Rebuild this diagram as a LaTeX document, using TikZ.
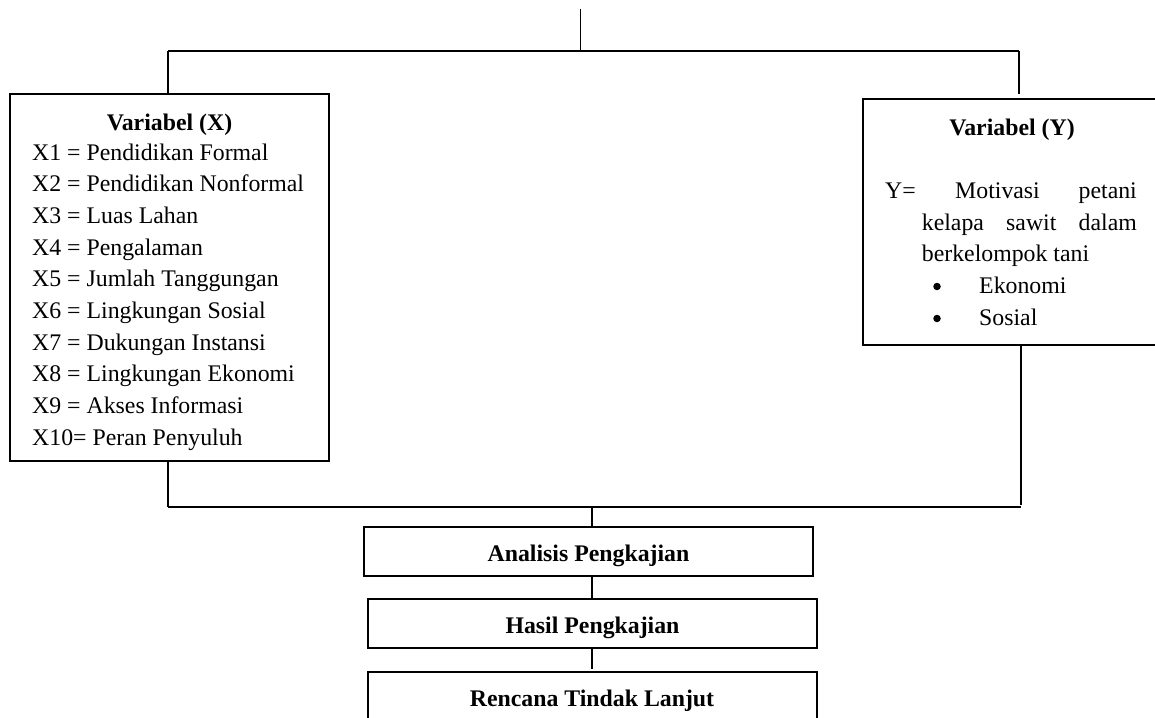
\documentclass[tikz,border=0pt]{standalone}
\usepackage{fontspec}
\setmainfont{Liberation Serif}
\begin{document}
\begin{tikzpicture}[x=1pt,y=-1pt,
  box/.style={draw,line width=1.6pt,inner sep=0pt},
  conn/.style={line width=1.3pt},
  hconn/.style={line width=1.8pt},
  bul/.style={circle,fill=black,inner sep=0pt,minimum size=7.5pt},
  txt/.style={font=\fontsize{23.8}{31.7}\selectfont,inner sep=0pt,anchor=base west},
  ttl/.style={font=\fontsize{23.8}{31.7}\selectfont\bfseries,inner sep=0pt,anchor=base}]
\clip (0,0) rectangle (1155,717);
\fill[white] (0,0) rectangle (1155,717);
% boxes
\node[box,minimum width=319pt,minimum height=367pt] (bx) at (169.5,277.5) {};
\node[box,minimum width=310pt,minimum height=246pt] (by) at (1018,222) {};
\node[box,minimum width=449pt,minimum height=49pt] (ana) at (588.5,551.5) {};
\node[box,minimum width=449pt,minimum height=49pt] (has) at (592.5,623.5) {};
\node[box,minimum width=449pt,minimum height=70pt] (ren) at (592.5,707) {};
% box texts
\node[ttl] (ana-t) at (588.5,561) {Analisis Pengkajian};
\node[ttl] (has-t) at (592.5,633) {Hasil Pengkajian};
\node[ttl] (ren-t) at (592,706) {Rencana Tindak Lanjut};
% left text
\node[ttl] (xt) at (169.5,130) {Variabel (X)};
\foreach \t [count=\i from 0] in {X1 = Pendidikan Formal,X2 = Pendidikan Nonformal,X3 = Luas Lahan,X4 = Pengalaman,X5 = Jumlah Tanggungan,X6 = Lingkungan Sosial,X7 = Dukungan Instansi,X8 = Lingkungan Ekonomi,X9 = Akses Informasi,X10= Peran Penyuluh}
  \node[txt] (x\i) at (32,{160+31.7*\i}) {\t};
% right text
\node[ttl] (yt) at (1012,135) {Variabel (Y)};
\node[txt] (y1a) at (885,198) {Y=};
\node[txt] (y1b) at (955,198) {Motivasi};
\node[txt,anchor=base east] (y1c) at (1137,198) {petani};
\node[txt] (y2a) at (921.7,230) {kelapa};
\node[txt] (y2b) at (1006,230) {sawit};
\node[txt,anchor=base east] (y2c) at (1137,230) {dalam};
\node[txt] (y3) at (921.7,261.5) {berkelompok tani};
\node[bul] (b1) at (937,286.5) {};
\node[txt] (y4) at (979,293.5) {Ekonomi};
\node[bul] (b2) at (937,318.5) {};
\node[txt] (y5) at (979,325.5) {Sosial};
% connectors top
\coordinate (top) at (580.5,9);
\coordinate (tm) at (580.5,50.7);
\coordinate (tl) at (168,50.7);
\coordinate (tr) at (1019,50.7);
\coordinate (trend) at (1019,94);
\draw[conn] (top) -- (tm);
\draw[hconn] (tl) -- (tr);
\draw[conn] (tl) -- (bx.north -| tl);
\draw[conn] (tr) -- (trend);
% connectors bottom
\coordinate (bl) at (168,506.7);
\coordinate (br) at (1021,506.7);
\coordinate (bm) at (592,506.7);
\draw[conn] (bx.south -| bl) -- (bl);
\draw[conn] (by.south -| br) -- ([yshift=1.5pt]br);
\draw[hconn] (bl) -- (br);
\draw[conn] (bm) -- (ana.north -| bm);
\draw[conn] (ana.south -| bm) -- (has.north -| bm);
\coordinate (hend) at (592,669);
\draw[conn] (has.south -| bm) -- (hend);
\end{tikzpicture}
\end{document}
